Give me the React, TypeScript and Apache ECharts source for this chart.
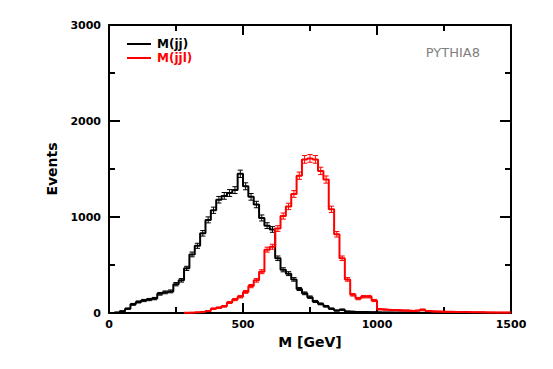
import React, { useEffect, useRef } from "react";
import * as echarts from "echarts";

const BIN_WIDTH = 20;
const X_TICKS = [0, 500, 1000, 1500];
const Y_TICKS = [0, 1000, 2000, 3000];
const SERIES_NAMES = ["M(jj)", "M(jjl)"];
const LABEL_TEXT = "PYTHIA8";

// M(jj) histogram, 20 GeV bins from 0 to 1500
const mjj = [
  0, 5, 18, 45, 90, 115, 130, 140, 150, 200,
  215, 225, 300, 340, 465, 610, 700, 830, 970, 1070,
  1180, 1220, 1250, 1280, 1450, 1320, 1210, 1130, 990, 910,
  870, 570, 450, 410, 350, 250, 205, 165, 120, 95,
  70, 45, 25, 35, 15, 12, 10, 10, 8, 8,
  6, 5, 5, 4, 4, 4, 3, 3, 3, 3,
  2, 2, 2, 2, 2, 1, 1, 1, 1, 1,
  1, 1, 0, 0, 0,
];

// M(jjl) histogram, 20 GeV bins from 0 to 1500
const mjjl = [
  0, 0, 0, 0, 0, 0, 0, 0, 0, 0,
  0, 0, 0, 0, 3, 5, 8, 12, 20, 45,
  55, 70, 110, 140, 170, 220, 280, 340, 430, 660,
  690, 880, 1010, 1110, 1240, 1430, 1600, 1610, 1600, 1480,
  1390, 1080, 820, 570, 350, 190, 150, 170, 170, 130,
  40, 35, 30, 30, 25, 25, 20, 25, 35, 20,
  15, 15, 12, 12, 10, 10, 10, 8, 8, 8,
  6, 6, 5, 5, 5,
];

const FONT = "DejaVu Sans";

function stepPoints(vals: number[]) {
  let first = vals.findIndex((v) => v > 0);
  if (first < 0) first = 0;
  const pts: number[][] = [];
  for (let i = first; i < vals.length; i++) {
    const lo = i * BIN_WIDTH;
    const hi = lo + BIN_WIDTH;
    pts.push([lo, vals[i]]);
    pts.push([hi, vals[i]]);
  }
  return pts;
}

function errPoints(vals: number[]) {
  const pts: number[][] = [];
  vals.forEach((v, i) => {
    if (v > 0) pts.push([i * BIN_WIDTH + BIN_WIDTH / 2, v]);
  });
  return pts;
}

function errorSeries(name: string, vals: number[], color: string, z: number) {
  return {
    name,
    type: "custom",
    z,
    silent: true,
    data: errPoints(vals),
    renderItem: (params: any, api: any) => {
      const x = api.value(0);
      const y = api.value(1);
      const e = Math.sqrt(y);
      const top = api.coord([x, y + e]);
      const bot = api.coord([x, Math.max(0, y - e)]);
      const w = 2.6;
      const st = { stroke: color, lineWidth: 1 };
      return {
        type: "group",
        children: [
          { type: "line", shape: { x1: top[0], y1: top[1], x2: bot[0], y2: bot[1] }, style: st },
          { type: "line", shape: { x1: top[0] - w, y1: top[1], x2: top[0] + w, y2: top[1] }, style: st },
          { type: "line", shape: { x1: bot[0] - w, y1: bot[1], x2: bot[0] + w, y2: bot[1] }, style: st },
        ],
      };
    },
  };
}

export default function App() {
  const ref = useRef<HTMLDivElement>(null);
  useEffect(() => {
    if (!ref.current) return;
    const chart = echarts.init(ref.current, null, { renderer: "svg" });
    const axisLine = { show: true, onZero: false, lineStyle: { color: "#000", width: 2 } };
    const xBase = {
      type: "value",
      min: X_TICKS[0],
      max: X_TICKS[X_TICKS.length - 1],
      interval: X_TICKS[1] - X_TICKS[0],
      splitLine: { show: false },
      axisLine,
      axisTick: { show: true, inside: true, length: 10, lineStyle: { color: "#000", width: 2 } },
      minorTick: { show: true, splitNumber: 2, length: 6, lineStyle: { color: "#000", width: 2 } },
    };
    const yBase = {
      type: "value",
      min: Y_TICKS[0],
      max: Y_TICKS[Y_TICKS.length - 1],
      interval: Y_TICKS[1] - Y_TICKS[0],
      splitLine: { show: false },
      axisLine,
      axisTick: { show: true, inside: true, length: 11, lineStyle: { color: "#000", width: 2 } },
      minorTick: { show: true, splitNumber: 2, length: 6, lineStyle: { color: "#000", width: 2 } },
    };
    const fmt = (v: number) => String(v);
    chart.setOption({
      animation: false,
      backgroundColor: "#fff",
      grid: { left: 109, top: 25, width: 402, height: 288 },
      legend: {
        left: 122,
        top: 33,
        orient: "vertical",
        itemWidth: 24,
        itemHeight: 2,
        itemGap: 2,
        icon: "rect",
        selectedMode: false,
        textStyle: { fontFamily: FONT, fontWeight: "bold", fontSize: 12, padding: [0, 0, 0, 1] },
        data: [
          { name: SERIES_NAMES[0], textStyle: { color: "#000" } },
          { name: SERIES_NAMES[1], textStyle: { color: "#ff0000" } },
        ],
      },
      graphic: [
        {
          type: "text",
          right: 73,
          top: 46,
          style: { text: LABEL_TEXT, fill: "#808080", font: `13px "${FONT}"` },
        },
      ],
      xAxis: [
        {
          ...xBase,
          position: "bottom",
          name: "M [GeV]",
          nameLocation: "middle",
          nameGap: 16,
          nameTextStyle: { fontFamily: FONT, fontWeight: "bold", fontSize: 14, color: "#000" },
          axisLabel: { show: true, margin: 6, formatter: fmt, fontFamily: FONT, fontWeight: "bold", fontSize: 11, color: "#000" },
        },
        { ...xBase, position: "top", axisLabel: { show: false } },
      ],
      yAxis: [
        {
          ...yBase,
          position: "left",
          name: "Events",
          nameLocation: "middle",
          nameGap: 50,
          nameTextStyle: { fontFamily: FONT, fontWeight: "bold", fontSize: 14, color: "#000" },
          axisLabel: { show: true, margin: 8, formatter: fmt, fontFamily: FONT, fontWeight: "bold", fontSize: 11, color: "#000" },
        },
        { ...yBase, position: "right", axisLabel: { show: false } },
      ],
      series: [
        {
          name: SERIES_NAMES[0],
          type: "line",
          data: stepPoints(mjj),
          showSymbol: false,
          symbol: "none",
          color: "#000",
          lineStyle: { color: "#000", width: 2 },
          z: 2,
        },
        errorSeries("err-jj", mjj, "#000", 3),
        {
          name: SERIES_NAMES[1],
          type: "line",
          data: stepPoints(mjjl),
          showSymbol: false,
          symbol: "none",
          color: "#ff0000",
          lineStyle: { color: "#ff0000", width: 2 },
          z: 4,
        },
        errorSeries("err-jjl", mjjl, "#ff0000", 5),
      ],
    });
    return () => chart.dispose();
  }, []);
  return <div ref={ref} style={{ width: 553, height: 369, position: "absolute", left: 0, top: 0 }} />;
}
